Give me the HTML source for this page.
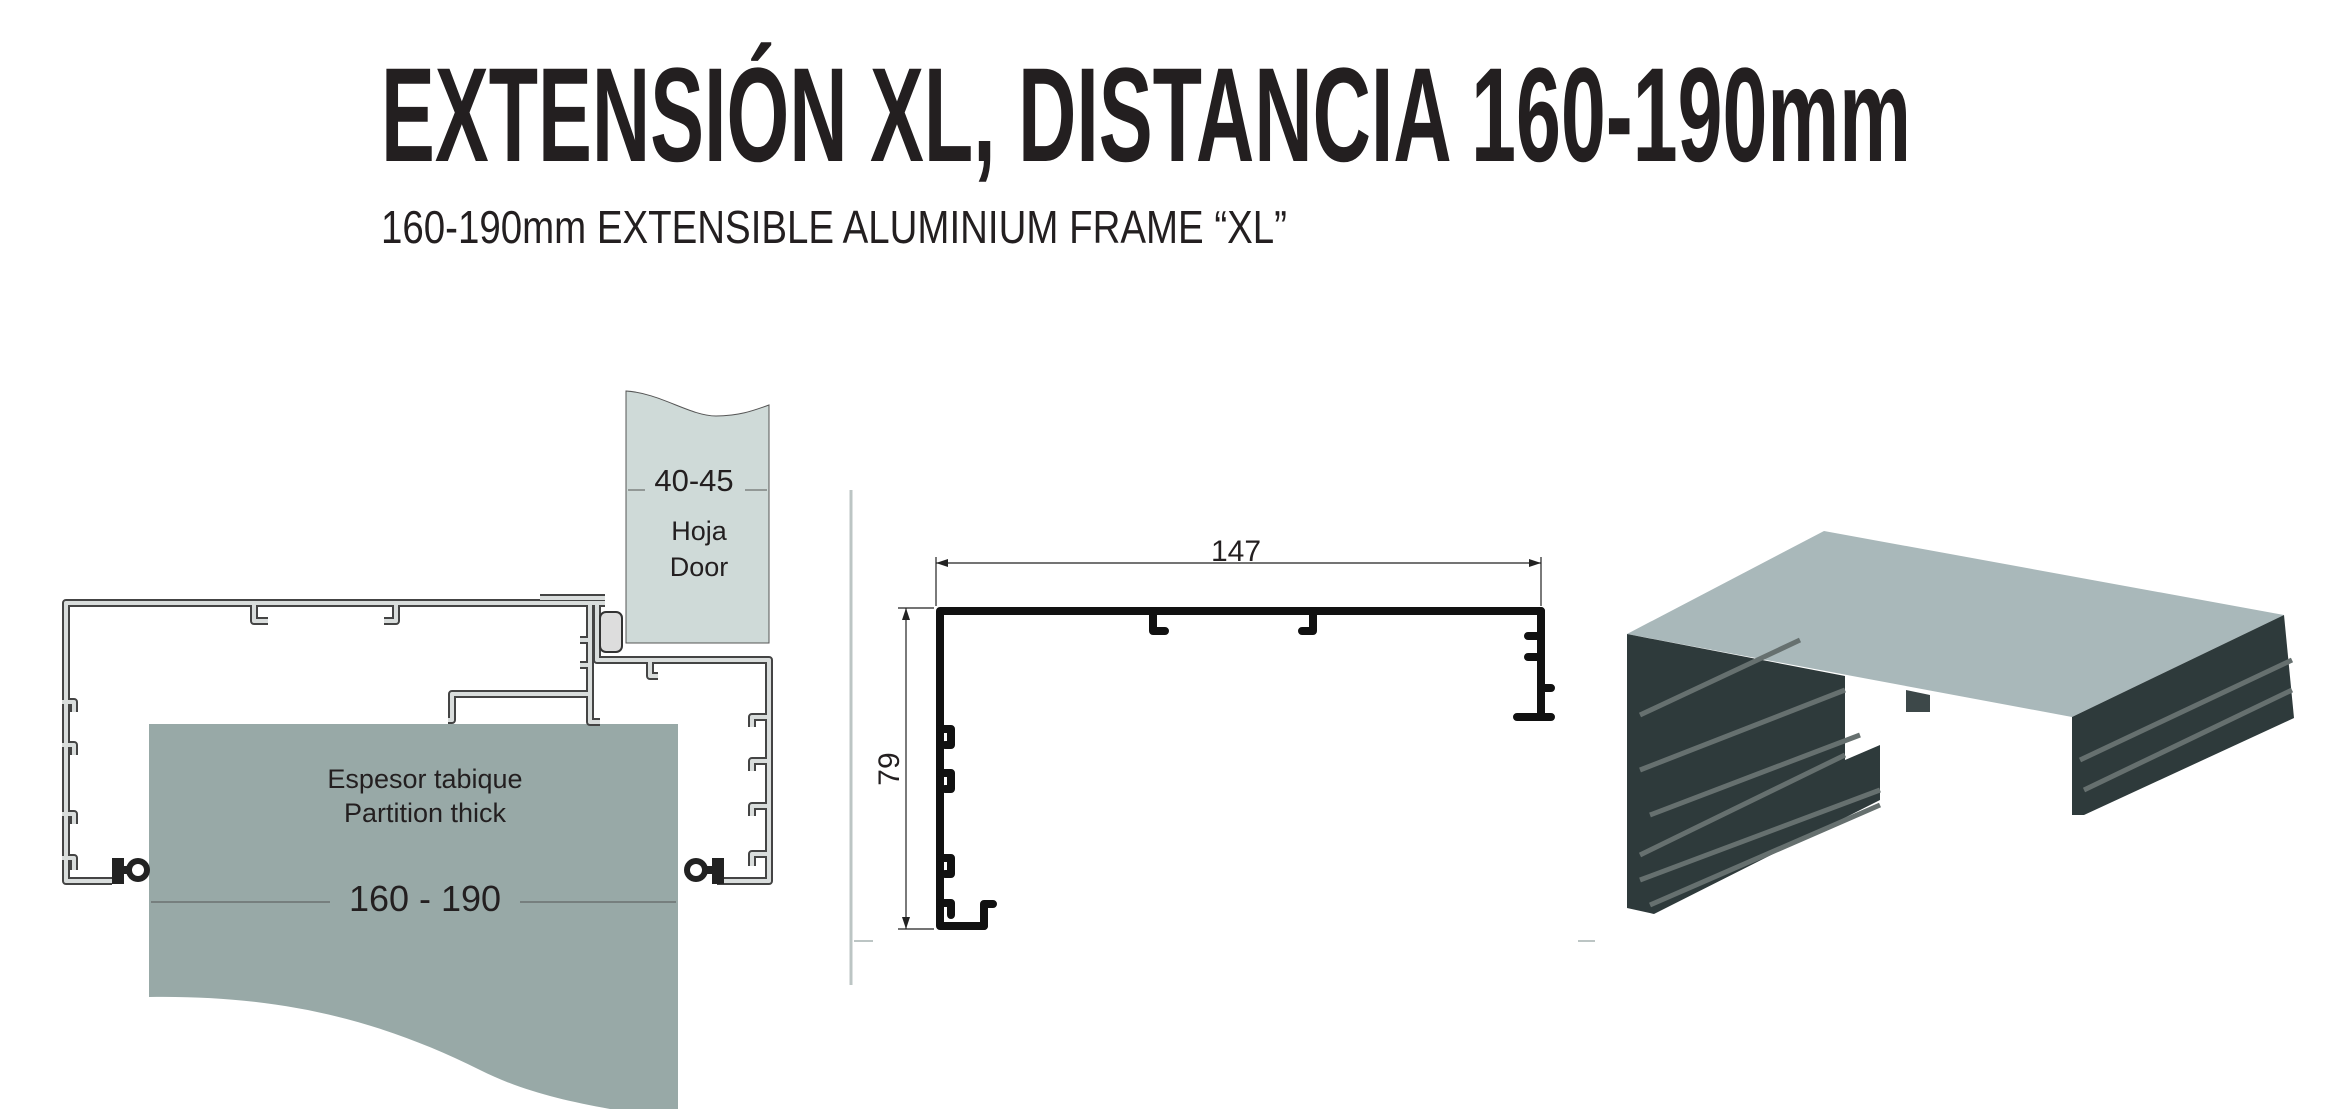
<!DOCTYPE html>
<html><head><meta charset="utf-8"><style>html,body{margin:0;padding:0;background:#fff}svg{display:block}</style></head>
<body>
<svg width="2341" height="1109" viewBox="0 0 2341 1109" xmlns="http://www.w3.org/2000/svg" font-family="Liberation Sans, sans-serif">
<text x="381" y="161" font-size="134" font-weight="bold" fill="#231f20" textLength="1530" lengthAdjust="spacingAndGlyphs">EXTENSIÓN XL, DISTANCIA 160-190mm</text>
<text x="381" y="243" font-size="46" fill="#231f20" textLength="906" lengthAdjust="spacingAndGlyphs">160-190mm EXTENSIBLE ALUMINIUM FRAME “XL”</text>

<!-- LEFT DRAWING -->
<path d="M626,391 C660,393 690,416 716,416 C740,416 755,410 769,405 L769,643 L626,643 Z" fill="#cfdad8" stroke="#555" stroke-width="1"/>
<line x1="628" y1="490" x2="645" y2="490" stroke="#555" stroke-width="1"/>
<line x1="745" y1="490" x2="767" y2="490" stroke="#555" stroke-width="1"/>
<text x="694" y="491" font-size="31" text-anchor="middle" fill="#231f20">40-45</text>
<text x="699" y="540" font-size="27" text-anchor="middle" fill="#231f20">Hoja</text>
<text x="699" y="576" font-size="27" text-anchor="middle" fill="#231f20">Door</text>

<path d="M149,724 L678,724 L678,1109 L610,1109 C560,1100 520,1090 480,1070 C380,1020 280,995 149,997 Z" fill="#98a9a7"/>
<line x1="151" y1="902" x2="676" y2="902" stroke="#555" stroke-width="1"/>
<text x="425" y="788" font-size="27" text-anchor="middle" fill="#231f20">Espesor tabique</text>
<text x="425" y="822" font-size="27" text-anchor="middle" fill="#231f20">Partition thick</text>
<rect x="330" y="880" width="190" height="36" fill="#98a9a7"/>
<text x="425" y="911" font-size="36" text-anchor="middle" fill="#231f20">160 - 190</text>

<g fill="none" stroke-linejoin="round">
<g stroke="#444" stroke-width="8">
<path d="M605,603 H66 V881 H112"/>
<path d="M254,603 V621 H268 M396,603 V621 H384"/>
<path d="M62,702 H74 V712 M62,745 H74 V755 M62,814 H74 V824 M62,858 H74 V870"/>
<path d="M590,603 V694 H452 V720 H448 M590,694 V722 H600"/>
<path d="M540,598 H605 M597,603 V660 H769 V881 H717"/>
<path d="M769,717 H752 V727 M769,761 H752 V771 M769,806 H752 V816 M769,854 H752 V866"/>
<path d="M650,660 V676 H658"/>
<path d="M580,640 H590 M580,665 H590"/>
</g>
<g stroke="#d9dddc" stroke-width="4">
<path d="M605,603 H66 V881 H112"/>
<path d="M254,603 V621 H268 M396,603 V621 H384"/>
<path d="M62,702 H74 V712 M62,745 H74 V755 M62,814 H74 V824 M62,858 H74 V870"/>
<path d="M590,603 V694 H452 V720 H448 M590,694 V722 H600"/>
<path d="M540,598 H605 M597,603 V660 H769 V881 H717"/>
<path d="M769,717 H752 V727 M769,761 H752 V771 M769,806 H752 V816 M769,854 H752 V866"/>
<path d="M650,660 V676 H658"/>
<path d="M580,640 H590 M580,665 H590"/>
</g>
</g>
<rect x="600" y="612" width="22" height="40" rx="6" fill="#ddd" stroke="#333" stroke-width="2"/>
<!-- gaskets -->
<g fill="#222"><rect x="112" y="858" width="12" height="26"/><rect x="120" y="866" width="10" height="8"/><circle cx="138" cy="870" r="12"/><rect x="712" y="858" width="12" height="26"/><rect x="704" y="866" width="10" height="8"/><circle cx="696" cy="870" r="12"/></g>
<g fill="#fff"><circle cx="138" cy="870" r="6"/><circle cx="696" cy="870" r="6"/></g>

<!-- MIDDLE -->
<line x1="851" y1="490" x2="851" y2="985" stroke="#bcc5c4" stroke-width="3"/>
<line x1="854" y1="941" x2="873" y2="941" stroke="#bcc5c4" stroke-width="2"/>
<line x1="1578" y1="941" x2="1595" y2="941" stroke="#bcc5c4" stroke-width="2"/>
<g stroke="#222" stroke-width="1.2" fill="none">
<path d="M936,557 V606 M1541,557 V606 M936,563 H1541 M898,608 H934 M898,929 H934 M906,608 V929"/>
</g>
<g fill="#222"><path d="M936,563 l12,-4 v8 z M1541,563 l-12,-4 v8 z M906,608 l-4,12 h8 z M906,929 l-4,-12 h8 z"/></g>
<text x="1236" y="561" font-size="30" text-anchor="middle" fill="#231f20">147</text>
<text transform="translate(899,769) rotate(-90)" font-size="30" text-anchor="middle" fill="#231f20">79</text>
<g fill="none" stroke="#111" stroke-width="8" stroke-linejoin="round" stroke-linecap="round">
<path d="M1541,611 H940 V926 H984"/>
<path d="M984,926 V904 H993"/>
<path d="M940,729 H951 V745 H945 M940,773 H951 V789 H945 M940,858 H951 V874 H945 M940,903 H951 V915"/>
<path d="M1153,611 V631 H1165 M1313,611 V631 H1302"/>
<path d="M1541,611 V717 M1517,717 H1551 M1528,636 H1541 M1528,657 H1541 M1541,688 H1551"/>
</g>

<!-- RIGHT 3D -->
<polygon points="1627,634 1824,531 2284,615 2072,717" fill="#a9b8ba"/>
<polygon points="1627,634 1845,676 1845,760 1880,745 1880,800 1654,914 1627,908" fill="#2e3a3b"/>
<g stroke="#66706f" stroke-width="5" fill="none">
<path d="M1640,715 L1800,640 M1640,770 L1845,690 M1640,855 L1845,755 M1640,880 L1880,790 M1650,905 L1880,805 M1650,815 L1860,735"/>
</g>
<polygon points="2072,717 2284,615 2294,718 2084,815 2072,815" fill="#2e3a3b"/>
<g stroke="#66706f" stroke-width="5" fill="none"><path d="M2084,790 L2292,690 M2080,760 L2292,660"/></g>
<polygon points="1906,690 1930,695 1930,712 1906,712" fill="#3d4849"/>
</svg>
</body></html>
